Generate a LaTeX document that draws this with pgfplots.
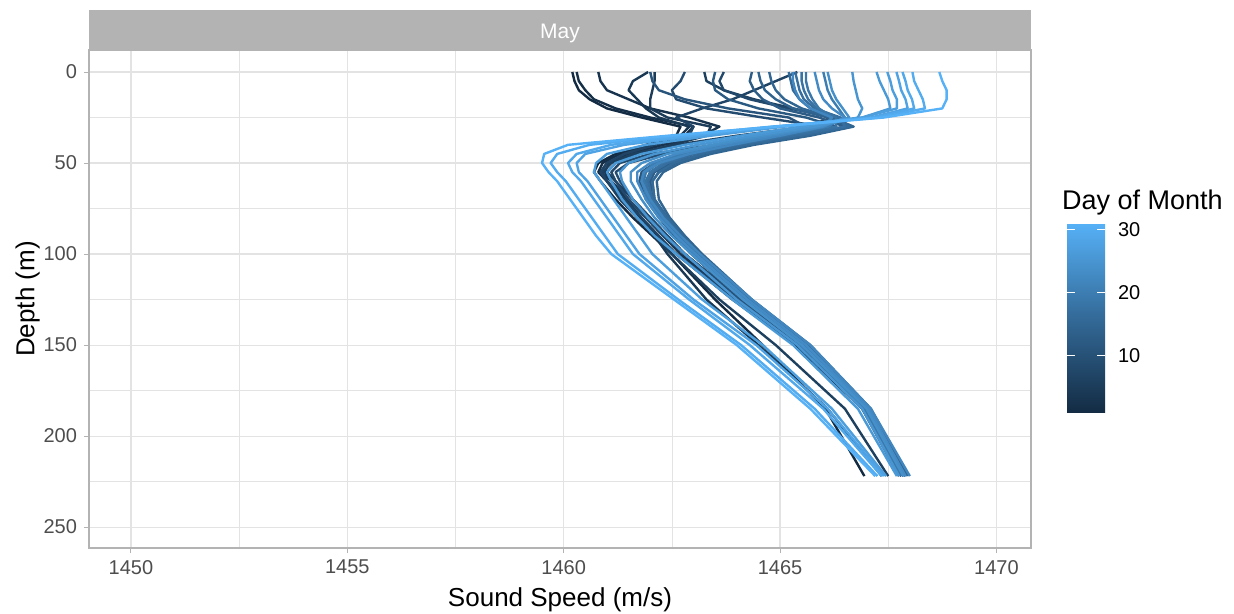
\documentclass[border=0pt]{standalone}
\usepackage{fontspec}
\setmainfont{Liberation Sans}
\usepackage{pgfplots}
\usepackage{pgfplotstable}
\pgfplotsset{compat=1.18}
\definecolor{lo}{HTML}{132B43}
\definecolor{md}{HTML}{336A98}
\definecolor{hi}{HTML}{56B1F7}
\definecolor{grey30}{HTML}{4D4D4D}
\definecolor{grey70}{HTML}{B3B3B3}
\definecolor{grey87}{HTML}{E3E3E3}

\pgfplotstableread{
depth d1 d2 d3 d4 d5 d6 d7 d8 d9
0 1460.2 1460.3 1460.8 1461.95 1462.1 1463.25 1465.4 1463.7 1462.8
5 1460.25 1460.35 1460.85 1461.6 1462.1 1463.3 1464.9 1463.6 1462.7
10 1460.35 1460.5 1461.0 1461.5 1462.05 1463.7 1464.4 1463.7 1462.5
15 1460.6 1460.7 1461.5 1461.7 1462.0 1464.4 1463.9 1464.3 1462.6
20 1461.0 1461.2 1462.0 1461.9 1462.0 1465.3 1463.2 1465.2 1463.3
25 1461.8 1462.0 1462.9 1462.2 1462.4 1466.2 1462.6 1466.3 1464.6
30 1462.7 1463.0 1463.6 1462.9 1463.4 1465.6 1463.0 1466.6 1466.0
35 1462.6 1462.8 1463.2 1462.7 1463.3 1464.0 1462.9 1465.3 1465.0
40 1461.9 1462.0 1462.3 1462.1 1462.5 1462.6 1462.1 1463.5 1463.6
45 1461.2 1461.3 1461.5 1461.4 1461.7 1461.6 1461.4 1462.0 1462.3
50 1460.8 1460.9 1461.0 1461.05 1461.2 1461.1 1461.0 1461.3 1461.5
55 1460.7 1460.8 1460.85 1460.95 1461.0 1460.9 1460.85 1461.1 1461.2
60 1460.85 1461.0 1461.1 1461.1 1461.2 1461.0 1461.0 1461.2 1461.3
70 1461.2 1461.35 1461.5 1461.45 1461.6 1461.3 1461.4 1461.5 1461.6
80 1461.6 1461.75 1461.9 1461.8 1462.0 1461.7 1461.8 1461.9 1462.0
90 1462.05 1462.15 1462.3 1462.1 1462.4 1462.1 1462.2 1462.3 1462.4
100 1462.5 1462.6 1462.7 1462.4 1462.8 1462.5 1462.6 1462.8 1462.8
125 1463.5 1463.9 1464.0 1463.3 1464.1 1463.6 1464.0 1464.1 1464.05
150 1464.6 1465.35 1465.4 1464.5 1465.5 1464.9 1465.45 1465.5 1465.45
185 1466.05 1466.9 1466.95 1466.1 1467.0 1466.5 1466.95 1467.0 1466.95
222 1466.95 1467.75 1467.8 1467.35 1467.85 1467.5 1467.8 1467.85 1467.8
}\darktab

\pgfplotstableread{
depth d11 d12 d13 d14 d15 d16 d17 d18 d19 d20
0 1462.0 1463.5 1464.35 1464.5 1464.75 1465.2 1465.35 1465.5 1465.6 1466.0
5 1462.05 1463.45 1464.3 1464.55 1464.8 1465.25 1465.4 1465.5 1465.6 1466.05
10 1462.2 1463.5 1464.4 1464.65 1464.9 1465.3 1465.45 1465.55 1465.65 1466.1
15 1462.8 1463.8 1464.6 1464.9 1465.1 1465.45 1465.55 1465.65 1465.75 1466.2
20 1463.8 1464.5 1465.0 1465.3 1465.5 1465.7 1465.8 1465.85 1465.9 1466.35
25 1465.2 1465.6 1465.9 1466.1 1466.2 1466.3 1466.4 1466.3 1466.2 1466.5
30 1465.6 1466.3 1466.5 1466.6 1466.7 1466.6 1466.5 1466.3 1466.1 1466.1
35 1464.8 1465.3 1465.5 1465.6 1465.7 1465.5 1465.3 1465.1 1465.0 1464.9
40 1463.6 1464.0 1464.2 1464.3 1464.4 1464.2 1464.0 1463.9 1463.8 1463.7
45 1462.7 1463.0 1463.2 1463.3 1463.4 1463.2 1463.0 1462.9 1462.8 1462.7
50 1462.1 1462.35 1462.5 1462.6 1462.7 1462.55 1462.4 1462.3 1462.2 1462.1
55 1461.8 1462.0 1462.1 1462.2 1462.3 1462.2 1462.05 1462.0 1461.9 1461.85
60 1461.75 1461.9 1462.0 1462.05 1462.15 1462.05 1461.95 1461.9 1461.85 1461.8
70 1461.9 1462.0 1462.05 1462.1 1462.2 1462.1 1462.05 1462.0 1461.95 1461.95
80 1462.2 1462.3 1462.35 1462.4 1462.45 1462.4 1462.35 1462.3 1462.25 1462.25
90 1462.55 1462.65 1462.7 1462.75 1462.8 1462.75 1462.7 1462.65 1462.6 1462.6
100 1462.95 1463.05 1463.1 1463.15 1463.2 1463.15 1463.1 1463.05 1463.0 1463.0
125 1464.1 1464.2 1464.25 1464.3 1464.35 1464.3 1464.25 1464.2 1464.15 1464.2
150 1465.45 1465.55 1465.6 1465.65 1465.7 1465.65 1465.6 1465.55 1465.5 1465.55
185 1466.9 1466.95 1467.0 1467.05 1467.1 1467.05 1467.0 1467.0 1466.95 1467.0
222 1467.8 1467.85 1467.85 1467.9 1467.95 1467.9 1467.9 1467.85 1467.8 1467.85
}\midtab

\pgfplotstableread{
depth d22 d23 d24 d25 d26 d27 d28 d29 d30 d31
0 1465.29 1465.8 1466.1 1466.67 1467.23 1467.48 1467.69 1467.83 1468.06 1468.68
5 1465.3 1465.85 1466.15 1466.7 1467.3 1467.55 1467.75 1467.9 1468.1 1468.75
10 1465.35 1465.9 1466.2 1466.75 1467.4 1467.6 1467.8 1467.95 1468.2 1468.85
15 1465.45 1466.0 1466.3 1466.8 1467.5 1467.7 1467.9 1468.05 1468.3 1468.85
20 1465.7 1466.2 1466.45 1466.9 1467.55 1467.7 1467.95 1468.1 1468.35 1468.75
25 1466.2 1466.5 1466.6 1466.8 1466.9 1466.9 1467.1 1467.2 1467.3 1467.4
30 1466.0 1466.0 1465.9 1465.8 1465.5 1465.1 1465.0 1464.9 1464.8 1464.9
35 1465.0 1464.8 1464.6 1464.4 1464.1 1463.4 1463.1 1462.9 1462.6 1462.4
40 1463.9 1463.6 1463.4 1463.1 1462.8 1461.9 1461.4 1461.1 1460.6 1460.1
45 1462.9 1462.6 1462.4 1462.1 1461.8 1461.0 1460.5 1460.3 1459.85 1459.55
50 1462.2 1462.0 1461.8 1461.5 1461.2 1460.75 1460.3 1460.1 1459.7 1459.5
55 1461.85 1461.7 1461.55 1461.3 1461.0 1460.7 1460.35 1460.2 1459.85 1459.65
60 1461.8 1461.7 1461.55 1461.35 1461.1 1460.85 1460.55 1460.4 1460.05 1459.85
70 1462.0 1461.9 1461.8 1461.6 1461.35 1461.15 1460.85 1460.7 1460.35 1460.15
80 1462.3 1462.2 1462.1 1461.95 1461.7 1461.45 1461.15 1461.0 1460.65 1460.45
90 1462.7 1462.6 1462.5 1462.35 1462.1 1461.75 1461.45 1461.3 1460.95 1460.75
100 1463.15 1463.05 1462.95 1462.8 1462.6 1462.05 1461.75 1461.6 1461.25 1461.1
125 1464.35 1464.25 1464.15 1464.0 1463.9 1463.2 1463.0 1462.9 1462.65 1462.55
150 1465.7 1465.6 1465.5 1465.4 1465.3 1464.6 1464.45 1464.3 1464.1 1464.0
185 1467.1 1467.05 1467.0 1466.9 1466.8 1466.2 1466.1 1466.0 1465.8 1465.7
222 1468.0 1467.9 1467.85 1467.75 1467.7 1467.45 1467.4 1467.35 1467.25 1467.2
}\lighttab

\colorlet{c1}{lo}
\colorlet{c2}{md!7!lo}
\colorlet{c3}{md!13!lo}
\colorlet{c4}{md!20!lo}
\colorlet{c5}{md!27!lo}
\colorlet{c6}{md!33!lo}
\colorlet{c7}{md!40!lo}
\colorlet{c8}{md!47!lo}
\colorlet{c9}{md!53!lo}
\colorlet{c11}{md!67!lo}
\colorlet{c12}{md!73!lo}
\colorlet{c13}{md!80!lo}
\colorlet{c14}{md!87!lo}
\colorlet{c15}{md!93!lo}
\colorlet{c16}{md}
\colorlet{c17}{hi!7!md}
\colorlet{c18}{hi!13!md}
\colorlet{c19}{hi!20!md}
\colorlet{c20}{hi!27!md}
\colorlet{c22}{hi!40!md}
\colorlet{c23}{hi!47!md}
\colorlet{c24}{hi!53!md}
\colorlet{c25}{hi!60!md}
\colorlet{c26}{hi!67!md}
\colorlet{c27}{hi!73!md}
\colorlet{c28}{hi!80!md}
\colorlet{c29}{hi!87!md}
\colorlet{c30}{hi!93!md}
\colorlet{c31}{hi}

\pgfplotsset{
  /pgf/number format/1000 sep={},
  /pgf/number format/assume math mode=true,
}

\begin{document}
\begin{tikzpicture}
\path[use as bounding box] (0,0) rectangle (617pt,307pt);
\fill[grey70] (44.5pt,282pt) rectangle (515.5pt,302pt);
\node[text=white, font=\fontsize{10.5}{12}\selectfont] at (280pt,290.3pt) {May};
\begin{axis}[
  scale only axis, width=471pt, height=249pt,
  at={(44.5pt,33pt)}, anchor=south west,
  xmin=1449.03, xmax=1470.8, ymin=-12.1, ymax=261.5, y dir=reverse,
  xtick={1450,1455,1460,1465,1470},
  minor xtick={1452.5,1457.5,1462.5,1467.5},
  ytick={0,50,100,150,200,250},
  minor ytick={25,75,125,175,225},
  grid=both,
  major grid style={grey87, line width=0.55pt},
  minor grid style={grey87, line width=0.3pt},
  axis line style={grey70, line width=0.6pt},
  tick align=outside, major tick length=2.5pt, minor tick length=0pt,
  tick style={grey70, line width=0.5pt},
  tick pos=left,
  ticklabel style={font=\fontsize{10}{12}\selectfont, text=grey30},
  xlabel={Sound Speed (m/s)}, ylabel={Depth (m)},
  label style={font=\fontsize{13}{15}\selectfont},
  xlabel style={at={(axis description cs:0.5,-0.1165)}, anchor=base},
  ylabel style={at={(axis description cs:-0.0579,0.5)}, anchor=base},
  colormap={gg}{rgb255=(19,43,67) rgb255=(51,106,152) rgb255=(86,177,247)},
  point meta min=1, point meta max=31,
  colorbar,
  colorbar/width=19pt,
  colorbar shift/.style={xshift=0pt},
  colorbar style={
    scale only axis, width=19pt, height=95pt,
    at={(parent axis.south east)}, anchor=south west,
    xshift=18pt, yshift=67.5pt,
    ytick={10,20,30}, yticklabel pos=right, ytick pos=both,
    tick align=inside, major tick length=3.8pt,
    ytick style={draw=white, line width=0.5pt},
    axis line style={draw=none},
    yticklabel style={font=\fontsize{10}{12}\selectfont, text=black, xshift=3pt},
  },
  every axis plot/.append style={line width=1.2pt, line join=round, no markers},
]
\addplot[c1] table[x=d1, y=depth] {\darktab};
\addplot[c2] table[x=d2, y=depth] {\darktab};
\addplot[c3] table[x=d3, y=depth] {\darktab};
\addplot[c4] table[x=d4, y=depth] {\darktab};
\addplot[c5] table[x=d5, y=depth] {\darktab};
\addplot[c6] table[x=d6, y=depth] {\darktab};
\addplot[c7] table[x=d7, y=depth] {\darktab};
\addplot[c8] table[x=d8, y=depth] {\darktab};
\addplot[c9] table[x=d9, y=depth] {\darktab};
\addplot[c11] table[x=d11, y=depth] {\midtab};
\addplot[c12] table[x=d12, y=depth] {\midtab};
\addplot[c13] table[x=d13, y=depth] {\midtab};
\addplot[c14] table[x=d14, y=depth] {\midtab};
\addplot[c15] table[x=d15, y=depth] {\midtab};
\addplot[c16] table[x=d16, y=depth] {\midtab};
\addplot[c17] table[x=d17, y=depth] {\midtab};
\addplot[c18] table[x=d18, y=depth] {\midtab};
\addplot[c19] table[x=d19, y=depth] {\midtab};
\addplot[c20] table[x=d20, y=depth] {\midtab};
\addplot[c22] table[x=d22, y=depth] {\lighttab};
\addplot[c23] table[x=d23, y=depth] {\lighttab};
\addplot[c24] table[x=d24, y=depth] {\lighttab};
\addplot[c25] table[x=d25, y=depth] {\lighttab};
\addplot[c26] table[x=d26, y=depth] {\lighttab};
\addplot[c27] table[x=d27, y=depth] {\lighttab};
\addplot[c28] table[x=d28, y=depth] {\lighttab};
\addplot[c29] table[x=d29, y=depth] {\lighttab};
\addplot[c30] table[x=d30, y=depth] {\lighttab};
\addplot[c31] table[x=d31, y=depth] {\lighttab};
\end{axis}
\node[anchor=base west, font=\fontsize{13.5}{16}\selectfont] at (527.5pt,202pt) {Day of Month};
\end{tikzpicture}
\end{document}
